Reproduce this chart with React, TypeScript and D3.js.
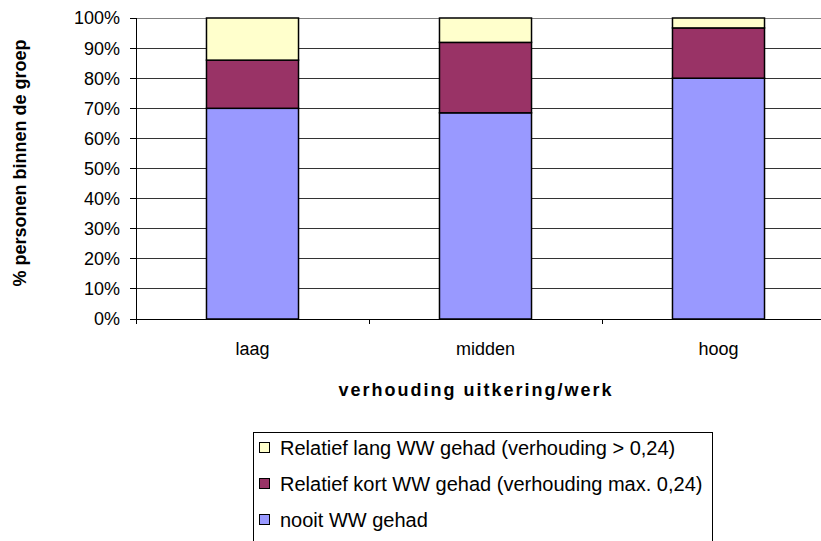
import React from "react";
import * as d3 from "d3";

const categories = ["laag", "midden", "hoog"];
const nooit = [70, 68.5, 80];
const kort = [16, 23.4, 16.7];
const lang = [14, 8.1, 3.3];
const yTicks = [0, 10, 20, 30, 40, 50, 60, 70, 80, 90, 100];
const seriesNames = [
  "nooit WW gehad",
  "Relatief kort WW gehad (verhouding max. 0,24)",
  "Relatief lang WW gehad (verhouding > 0,24)",
];
const seriesColors = ["#9999FF", "#993366", "#FFFFCC"];

const W = 821;
const H = 541;
const plotLeft = 136;
const plotRight = 835;
const plotTop = 18;
const plotBottom = 319;
const font = "'Liberation Sans', Arial, sans-serif";

export default function App() {
  const x = d3
    .scaleBand<string>()
    .domain(categories)
    .range([plotLeft, plotRight])
    .paddingInner(0.605)
    .paddingOuter(0.3025);
  const y = d3.scaleLinear().domain([0, 100]).range([plotBottom, plotTop]);
  const rows = categories.map((c, i) => ({ cat: c, s0: nooit[i], s1: kort[i], s2: lang[i] }));
  const stack = d3.stack<any>().keys(["s0", "s1", "s2"]);
  const stacked = stack(rows);
  const step = x.step();
  const catTicks = d3.range(categories.length + 1).map((i) => plotLeft + i * step);

  const legendOrder = [2, 1, 0];

  return (
    <svg width={W} height={H} style={{ position: "absolute", left: 0, top: 0, background: "#fff" }} fontFamily={font}>
      {yTicks.map((t) => (
        <line key={"g" + t} x1={plotLeft} x2={plotRight} y1={y(t)} y2={y(t)} stroke={t === 100 ? "#808080" : "#333"} strokeWidth={1} shapeRendering="crispEdges" />
      ))}
      {stacked.map((s, si) =>
        s.map((d, i) => (
          <rect
            key={si + "-" + i}
            x={x(categories[i])!}
            y={y(d[1])}
            width={x.bandwidth()}
            height={y(d[0]) - y(d[1])}
            fill={seriesColors[si]}
            stroke="#000"
            strokeWidth={1.5}
          />
        ))
      )}
      <line x1={plotLeft} x2={plotLeft} y1={plotTop} y2={plotBottom} stroke="#000" strokeWidth={1} shapeRendering="crispEdges" />
      {yTicks.map((t) => (
        <g key={"t" + t}>
          <line x1={plotLeft - 6} x2={plotLeft} y1={y(t)} y2={y(t)} stroke="#000" shapeRendering="crispEdges" />
          <text x={120} y={y(t)} dy="0.36em" textAnchor="end" fontSize={18} fill="#000">
            {t}%
          </text>
        </g>
      ))}
      <line x1={plotLeft} x2={plotRight} y1={plotBottom} y2={plotBottom} stroke="#000" strokeWidth={1} shapeRendering="crispEdges" />
      {catTicks.map((tx, i) => (
        <line key={"ct" + i} x1={tx} x2={tx} y1={plotBottom} y2={plotBottom + 5} stroke="#000" shapeRendering="crispEdges" />
      ))}
      {categories.map((c) => (
        <text key={c} x={x(c)! + x.bandwidth() / 2} y={355} textAnchor="middle" fontSize={18} fill="#000">
          {c}
        </text>
      ))}
      <text x={476} y={396} textAnchor="middle" fontSize={18} fontWeight="bold" letterSpacing={2} fill="#000">
        verhouding uitkering/werk
      </text>
      <text transform={`translate(26,163) rotate(-90)`} textAnchor="middle" fontSize={18} fontWeight="bold" fill="#000">
        % personen binnen de groep
      </text>
      <rect x={253.5} y={432.5} width={459} height={120} fill="#fff" stroke="#000" strokeWidth={1} />
      {legendOrder.map((si, k) => (
        <g key={"l" + si}>
          <rect x={259.5} y={442.5 + k * 36} width={10} height={10} fill={seriesColors[si]} stroke="#000" strokeWidth={1} />
          <text x={280} y={455 + k * 36} fontSize={20} fill="#000">
            {seriesNames[si]}
          </text>
        </g>
      ))}
    </svg>
  );
}
